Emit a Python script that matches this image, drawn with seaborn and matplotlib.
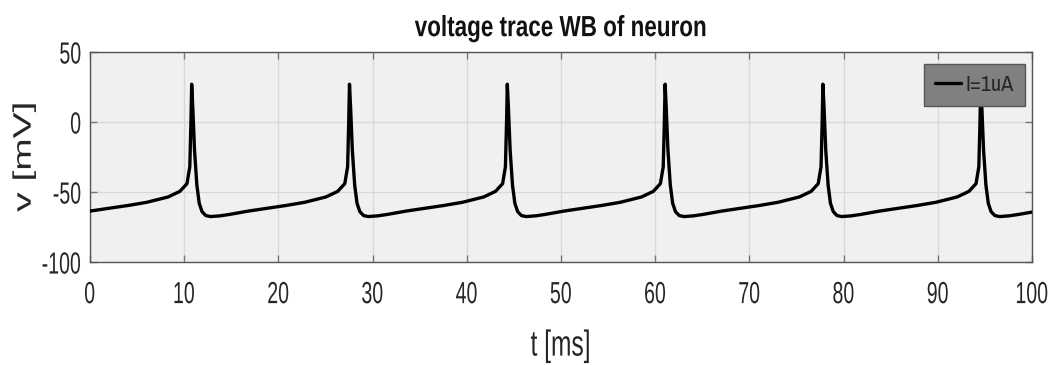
# voltage trace of WB neuron, matlab-ish look
import matplotlib
matplotlib.use("Agg")
import matplotlib.pyplot as plt
import seaborn as sns
from matplotlib.patheffects import AbstractPathEffect
from matplotlib.path import Path

# values (t in ms, v in mV)
t_ms = [
    0.0, 2.4, 4.05, 6.05, 8.3, 9.55, 10.3, 10.6, 10.72, 10.8,
    10.92, 11.1, 11.35, 11.6, 11.9, 12.3, 12.8, 13.8, 14.8, 16.8, 19.2,
    20.8, 22.8, 25.05, 26.3, 27.05, 27.35, 27.47, 27.55,
    27.67, 27.85, 28.1, 28.35, 28.65, 29.05, 29.55, 30.55, 31.55, 33.55, 35.95,
    37.55, 39.55, 41.8, 43.05, 43.8, 44.1, 44.22, 44.3,
    44.42, 44.6, 44.85, 45.1, 45.4, 45.8, 46.3, 47.3, 48.3, 50.3, 52.7,
    54.3, 56.3, 58.55, 59.8, 60.55, 60.85, 60.97, 61.05,
    61.17, 61.35, 61.6, 61.85, 62.15, 62.55, 63.05, 64.05, 65.05, 67.05, 69.45,
    71.05, 73.05, 75.3, 76.55, 77.3, 77.6, 77.72, 77.8,
    77.92, 78.1, 78.35, 78.6, 78.9, 79.3, 79.8, 80.8, 81.8, 83.8, 86.2,
    87.8, 89.8, 92.05, 93.3, 94.05, 94.35, 94.47, 94.55,
    94.67, 94.85, 95.1, 95.35, 95.65, 96.05, 96.55, 97.55, 98.55, 100.0,
]
v_mV = [
    -63.6, -61.2, -59.6, -57.3, -53.5, -49.5, -44, -32, 0, 27,
    10, -20, -45, -58, -64, -66.8, -67.5, -67, -66, -63.6, -61.2,
    -59.6, -57.3, -53.5, -49.5, -44, -32, 0, 27,
    10, -20, -45, -58, -64, -66.8, -67.5, -67, -66, -63.6, -61.2,
    -59.6, -57.3, -53.5, -49.5, -44, -32, 0, 27,
    10, -20, -45, -58, -64, -66.8, -67.5, -67, -66, -63.6, -61.2,
    -59.6, -57.3, -53.5, -49.5, -44, -32, 0, 27,
    10, -20, -45, -58, -64, -66.8, -67.5, -67, -66, -63.6, -61.2,
    -59.6, -57.3, -53.5, -49.5, -44, -32, 0, 27,
    10, -20, -45, -58, -64, -66.8, -67.5, -67, -66, -63.6, -61.2,
    -59.6, -57.3, -53.5, -49.5, -44, -32, 0, 27,
    10, -20, -45, -58, -64, -66.8, -67.5, -67, -66, -64.3,
]
x_ticks = [0, 10, 20, 30, 40, 50, 60, 70, 80, 90, 100]
y_ticks = [-100, -50, 0, 50]
legend_label = "I=1uA"


class Squeeze(AbstractPathEffect):
    # rescale text glyphs (the reference image is squeezed sideways)
    def __init__(self, sx=0.65, sy=1.0, anchor=0.5):
        super().__init__()
        self.sx = sx
        self.sy = sy
        self.anchor = anchor

    def draw_path(self, renderer, gc, tpath, affine, rgbFace=None):
        v = tpath.vertices.copy()
        if len(v):
            lo, hi = v[:, 0].min(), v[:, 0].max()
            c = lo + (hi - lo) * self.anchor
            v[:, 0] = c + (v[:, 0] - c) * self.sx
            lo, hi = v[:, 1].min(), v[:, 1].max()
            c = (lo + hi) / 2
            v[:, 1] = c + (v[:, 1] - c) * self.sy
        renderer.draw_path(gc, Path(v, tpath.codes), affine, rgbFace)


sns.set_style("ticks")
plt.rcParams["font.family"] = ["Liberation Sans", "DejaVu Sans"]
plt.rcParams["axes.unicode_minus"] = False

fig = plt.figure(figsize=(10.58, 3.65), dpi=100)
ax = fig.add_axes([0.085, 0.282, 0.8905, 0.5755])
ax.set_facecolor("#f0f0f0")

sns.lineplot(x=t_ms, y=v_mV, color="black", linewidth=2.4, label=legend_label,
             ax=ax, sort=False, zorder=3)

ax.set_xlim(0, 100)
ax.set_ylim(-100, 50)
ax.set_xticks(x_ticks)
ax.set_yticks(y_ticks)
ax.grid(True, color="#d8d8d8", linewidth=0.9, zorder=0)
ax.tick_params(direction="in", length=5, width=1, color="#777777",
               labelsize=22, labelcolor="#262626", top=True, right=True,
               labeltop=False, labelright=False)
ax.tick_params(axis="x", pad=13)
ax.tick_params(axis="y", pad=6)
for lbl in ax.get_xticklabels():
    lbl.set_path_effects([Squeeze(0.64, 1.0, 0.5)])
for lbl in ax.get_yticklabels():
    lbl.set_path_effects([Squeeze(0.64, 1.0, 1.0)])
for s in ax.spines.values():
    s.set_color("#555555")
    s.set_linewidth(1)

title = fig.text(0.530, 0.901, "voltage trace WB of neuron", fontsize=21,
                 fontweight="bold", ha="center", va="baseline", color="#111111")
title.set_path_effects([Squeeze(0.77, 1.0, 0.5)])

xl = ax.set_xlabel("t [ms]", fontsize=26, va="center", color="#262626")
ax.xaxis.set_label_coords(0.5, -0.40)
xl.set_path_effects([Squeeze(0.68, 1.0, 0.5)])
# y label: smaller font box, glyphs stretched along the text to keep the look
yl = ax.set_ylabel("v [mV]", fontsize=19, va="center", color="#262626")
ax.yaxis.set_label_coords(-0.070, 0.5)
yl.set_path_effects([Squeeze(28 / 19, 0.65 * 28 / 19, 0.5)])

leg = ax.legend(loc="upper right", bbox_to_anchor=(0.9926, 0.943),
                prop={"family": ["Archivo Narrow", "Liberation Sans"], "size": 16},
                frameon=True, fancybox=False, handlelength=1.2, handletextpad=0.2,
                borderpad=0.5, borderaxespad=0)
leg.get_frame().set_facecolor("#808080")
leg.get_frame().set_edgecolor("#555555")
leg.get_frame().set_alpha(1)
for txt in leg.get_texts():
    txt.set_color("#262626")

fig.savefig("out.png", dpi=100)
